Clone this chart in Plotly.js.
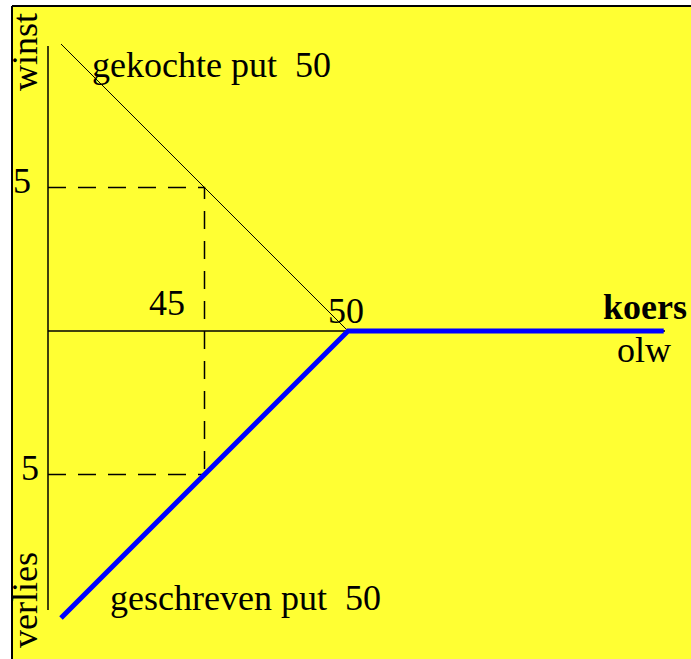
<!DOCTYPE html>
<html>
<head>
<meta charset="utf-8">
<script src="https://cdn.plot.ly/plotly-3.0.1.min.js"></script>
<style>html,body{margin:0;padding:0;background:#fff;overflow:hidden;}#chart{width:691px;height:659px;}</style>
</head>
<body>
<div id="chart"></div>
<script>
// ---- data ----
const koers = [40, 50, 61];            // koers olw (stock price)
const gekochtePut = [10, 0, 0];        // payoff long put 50
const geschrevenPut = [-10, 0, 0];     // payoff written put 50
const uitoefenprijs = 50;              // strike
const voorbeeldKoers = 45;             // example price
const voorbeeldWaarde = 5;             // payoff at example price
const tickLabels = ['5', '5', '45', '50'];
const axisTexts = ['winst', 'verlies', 'koers', 'olw'];
const seriesLabels = ['gekochte put\u00a0\u00a050', 'geschreven put\u00a0\u00a050'];

// ---- pixel helpers (layout only) ----
const W = 691, H = 659, ML = 12, MT = 6, S = 28.7;
const x0 = 50 - (348 - ML) / S, x1 = x0 + (W - ML) / S;
const y1 = (331 - MT) / S, y0 = y1 - (H - MT) / S;
const px = p => x0 + (p - ML) / S;
const py = q => y1 - (q - MT) / S;

const axLeft = px(48), axRight = px(665), axTop = py(46), axBottom = py(610);

const dash = {color: '#000', width: 1.5, dash: '18px,12px'};
const traces = [
  {x: [axLeft, voorbeeldKoers, voorbeeldKoers], y: [voorbeeldWaarde, voorbeeldWaarde, -voorbeeldWaarde],
   mode: 'lines', line: dash, hoverinfo: 'skip'},
  {x: [axLeft, voorbeeldKoers], y: [-voorbeeldWaarde, -voorbeeldWaarde],
   mode: 'lines', line: dash, hoverinfo: 'skip'},
  {x: koers, y: gekochtePut, mode: 'lines', line: {color: '#000', width: 1}},
  {x: koers, y: geschrevenPut, mode: 'lines', line: {color: '#0000ff', width: 5}}
];

const font = {family: 'Liberation Serif, Times New Roman, serif', size: 36, color: '#000'};
function ann(text, xp, yp, opts) {
  return Object.assign({text: text, x: px(xp), y: py(yp), xref: 'x', yref: 'y',
    showarrow: false, font: font, xanchor: 'center', yanchor: 'middle'}, opts || {});
}
const annotations = [
  ann(axisTexts[0], 25, 52, {textangle: -90}),
  ann(axisTexts[1], 25, 600, {textangle: -90}),
  ann(tickLabels[0], 22, 181),
  ann(tickLabels[1], 30, 468),
  ann(tickLabels[2], 167, 303),
  ann(tickLabels[3], 346, 311),
  ann('<b>' + axisTexts[2] + '</b>', 645, 307),
  ann(axisTexts[3], 644, 350),
  ann(seriesLabels[0], 90, 65, {xanchor: 'left'}),
  ann(seriesLabels[1], 108, 598, {xanchor: 'left'})
];

const shapes = [
  {type: 'line', xref: 'x', yref: 'y', x0: axLeft, x1: axLeft, y0: axTop, y1: axBottom, line: {color: '#000', width: 1.5}, layer: 'below'},
  {type: 'line', xref: 'x', yref: 'y', x0: axLeft, x1: axRight, y0: 0, y1: 0, line: {color: '#000', width: 1.5}, layer: 'below'},
  {type: 'line', xref: 'paper', yref: 'paper', x0: 0, x1: 1, y0: 1, y1: 1, line: {color: '#000', width: 2}},
  {type: 'line', xref: 'paper', yref: 'paper', x0: 0, x1: 0, y0: 0, y1: 1, line: {color: '#000', width: 2}}
];

const layout = {
  width: W, height: H,
  margin: {l: ML, r: 0, t: MT, b: 0, pad: 0},
  paper_bgcolor: '#ffffff', plot_bgcolor: '#ffff33',
  showlegend: false,
  xaxis: {range: [x0, x1], showline: false, visible: true,
          showgrid: false, zeroline: false, showticklabels: false, ticks: '', fixedrange: true},
  yaxis: {range: [y0, y1], showline: false,
          showgrid: false, zeroline: false, showticklabels: false, ticks: '', fixedrange: true},
  annotations: annotations,
  shapes: shapes
};
Plotly.newPlot('chart', traces, layout, {staticPlot: true});
</script>
</body>
</html>
